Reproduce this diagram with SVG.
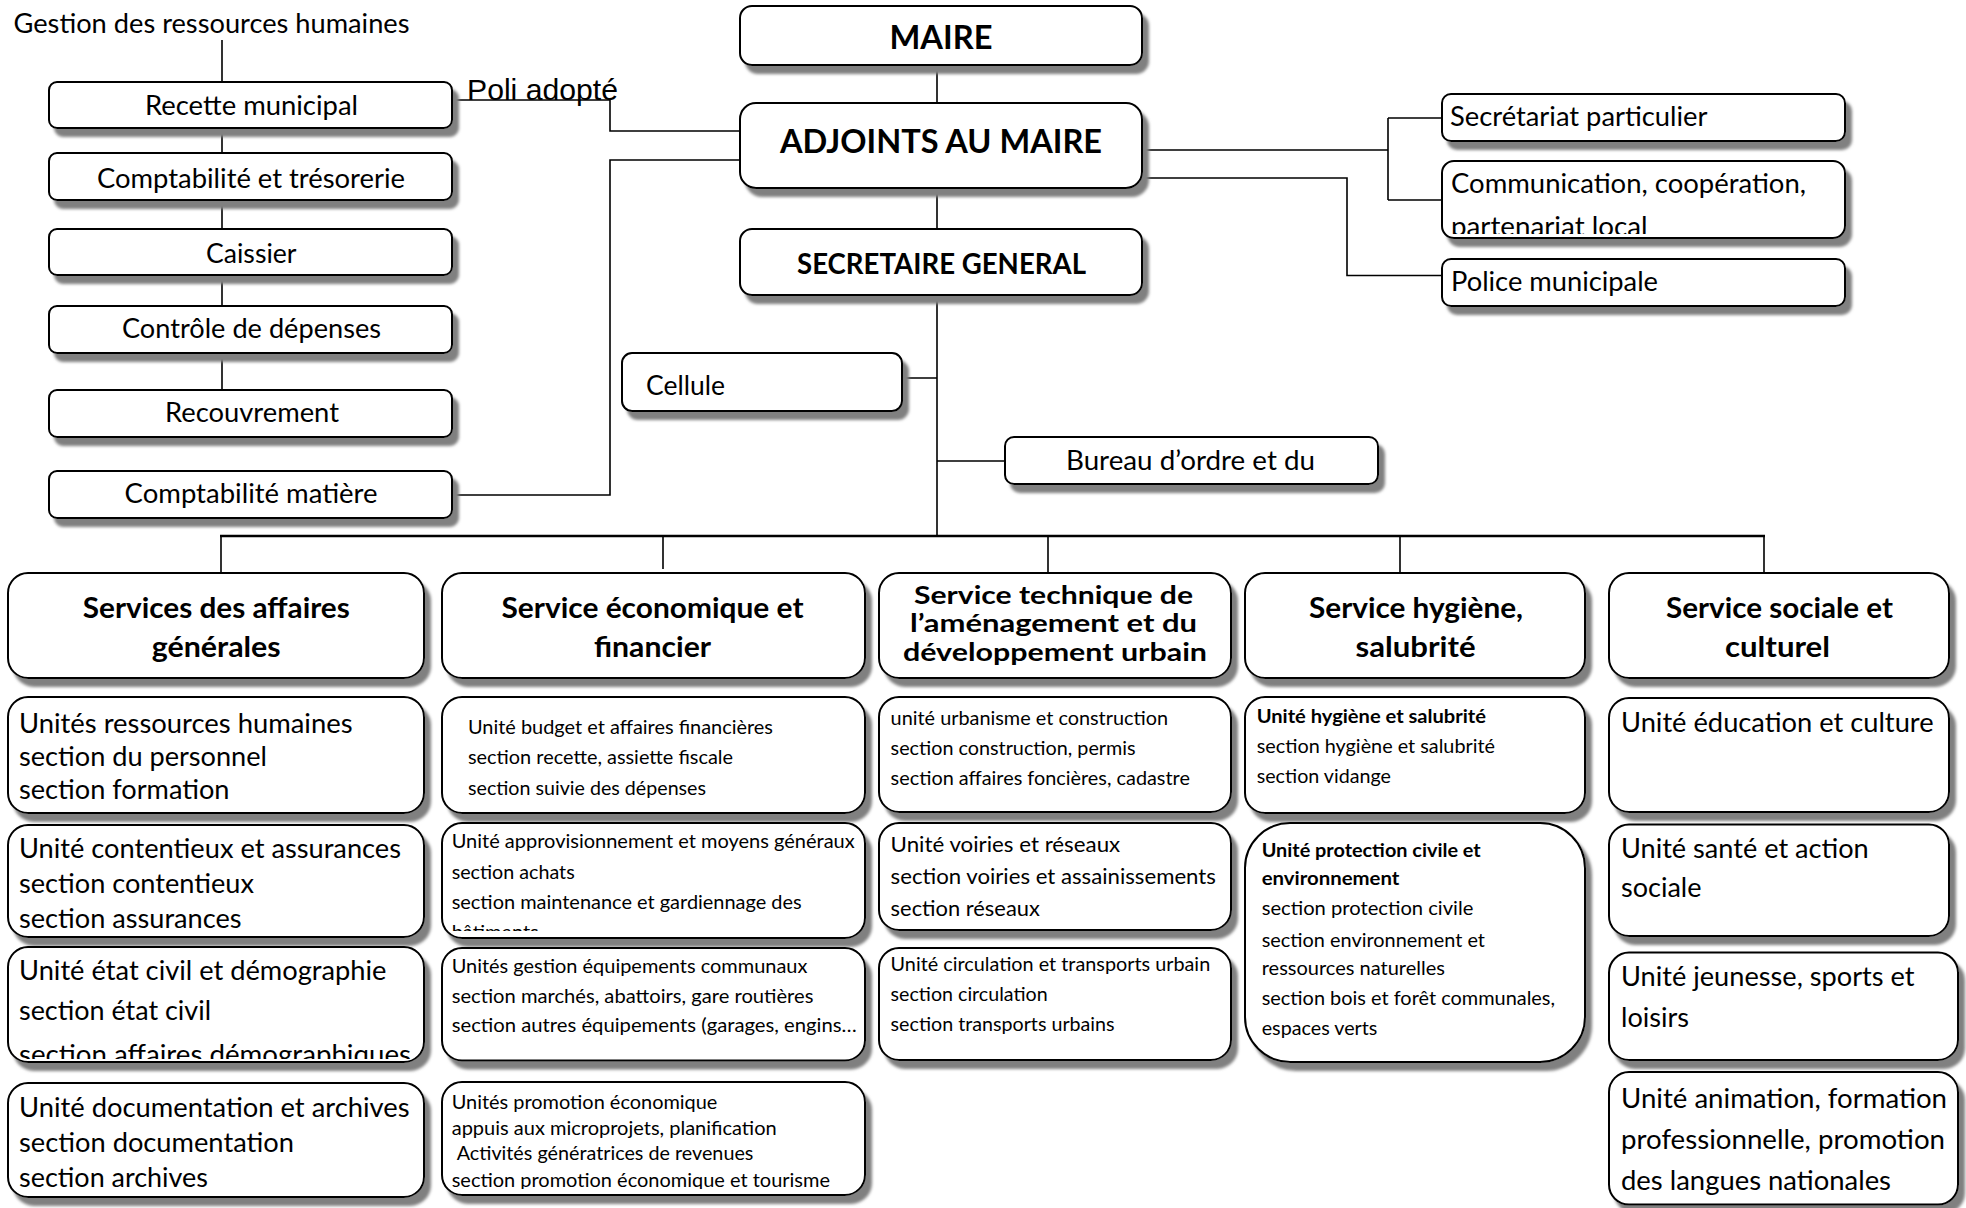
<svg xmlns="http://www.w3.org/2000/svg" width="1966" height="1208" viewBox="0 0 1966 1208" xml:space="preserve">
<defs>
<filter id="sh" x="-5%" y="-10%" width="115%" height="135%">
<feDropShadow dx="6" dy="8" stdDeviation="1.5" flood-color="#808080" flood-opacity="1"/>
</filter>
<clipPath id="clipComm"><rect x="1442" y="161" width="403" height="73"/></clipPath>
<clipPath id="clipC1C"><rect x="8" y="947" width="416" height="112"/></clipPath>
<clipPath id="clipC2B"><rect x="442" y="823" width="423" height="108"/></clipPath>
<clipPath id="clipC2D"><rect x="442" y="1082" width="423" height="107"/></clipPath>
</defs>
<style>
.box{fill:#fff;stroke:#000;stroke-width:2;filter:url(#sh)}
.c{fill:none;stroke:#000;stroke-width:1.6}
text{fill:#000;font-family:Lato,"Liberation Sans",sans-serif}
.r26{font-size:26px}
.r21{font-size:21px}
.r19{font-size:19px}
.b19{font-size:19px;font-weight:700}
.b26{font-size:25.5px;font-weight:700}
.b29{font-size:29px;font-weight:700}
.b33{font-size:33px;font-weight:700}
.ar{font-family:"Liberation Sans",Arial,sans-serif;font-size:29px}
</style>
<rect width="1966" height="1208" fill="#fff"/>

<g id="title-fragment">
<text class="ar" x="467" y="100" textLength="151" lengthAdjust="spacingAndGlyphs">Poli  adopté</text>
</g>

<g id="connectors">
<path class="c" d="M222 40V82M222 128V153M222 200V229M222 275V306M222 353V390"/>
<path class="c" d="M452 100H610V131H740"/>
<path class="c" d="M452 495H610V160H740"/>
<path class="c" d="M937 65V103M937 188V229M937 295V536"/>
<path class="c" d="M902 378H937M937 461H1005"/>
<path class="c" d="M1142 150H1388M1388 118V200M1388 118H1442M1388 200H1442"/>
<path class="c" d="M1142 178H1347V275.5H1442"/>
<path class="c" style="stroke-width:2.6" d="M220 536H1765"/>
<path class="c" d="M221 536V573M663 536V569M1048 536V573M1400 536V573M1764 536V573"/>
</g>

<g id="gestion-rh">
<text class="r26" x="13.5" y="32.7" textLength="396" lengthAdjust="spacingAndGlyphs">Gestion des ressources humaines</text>
</g>

<g id="recette-municipal">
<rect class="box" x="49" y="82" width="403" height="46" rx="8"/>
<text class="r26" x="145" y="115" textLength="213" lengthAdjust="spacingAndGlyphs">Recette municipal</text>
</g>
<g id="comptabilite-tresorerie">
<rect class="box" x="49" y="153" width="403" height="47" rx="8"/>
<text class="r26" x="97" y="187.5" textLength="308" lengthAdjust="spacingAndGlyphs">Comptabilité et trésorerie</text>
</g>
<g id="caissier">
<rect class="box" x="49" y="229" width="403" height="46" rx="8"/>
<text class="r26" x="206" y="263" textLength="90.5" lengthAdjust="spacingAndGlyphs">Caissier</text>
</g>
<g id="controle-depenses">
<rect class="box" x="49" y="306" width="403" height="47" rx="8"/>
<text class="r26" x="122" y="338" textLength="259" lengthAdjust="spacingAndGlyphs">Contrôle de dépenses</text>
</g>
<g id="recouvrement">
<rect class="box" x="49" y="390" width="403" height="47" rx="8"/>
<text class="r26" x="165" y="422" textLength="174" lengthAdjust="spacingAndGlyphs">Recouvrement</text>
</g>
<g id="comptabilite-matiere">
<rect class="box" x="49" y="471" width="403" height="47" rx="8"/>
<text class="r26" x="124.6" y="503" textLength="253" lengthAdjust="spacingAndGlyphs">Comptabilité matière</text>
</g>

<g id="maire">
<rect class="box" x="740" y="6" width="402" height="59" rx="12"/>
<text class="b33" x="889.5" y="48.5" textLength="103" lengthAdjust="spacingAndGlyphs">MAIRE</text>
</g>
<g id="adjoints">
<rect class="box" x="740" y="103" width="402" height="85" rx="16"/>
<text class="b33" x="780" y="153" textLength="322" lengthAdjust="spacingAndGlyphs">ADJOINTS AU MAIRE</text>
</g>
<g id="secretaire-general">
<rect class="box" x="740" y="229" width="402" height="66" rx="12"/>
<text class="b29" x="797" y="274" textLength="289" lengthAdjust="spacingAndGlyphs">SECRETAIRE GENERAL</text>
</g>
<g id="cellule">
<rect class="box" x="622" y="353" width="280" height="58" rx="10"/>
<text class="r26" x="646" y="395" textLength="79" lengthAdjust="spacingAndGlyphs">Cellule</text>
</g>
<g id="bureau-ordre">
<rect class="box" x="1005" y="437" width="373" height="47" rx="9"/>
<text class="r26" x="1066" y="470" textLength="249" lengthAdjust="spacingAndGlyphs">Bureau d’ordre et du</text>
</g>

<g id="secretariat">
<rect class="box" x="1442" y="94" width="403" height="47" rx="9"/>
<text class="r26" x="1450" y="126" textLength="257.5" lengthAdjust="spacingAndGlyphs">Secrétariat particulier</text>
</g>
<g id="communication">
<rect class="box" x="1442" y="161" width="403" height="77" rx="12"/>
<text class="r26" x="1451" y="193" textLength="355" lengthAdjust="spacingAndGlyphs">Communication, coopération,</text>
<text class="r26" x="1451" y="236" textLength="196.6" lengthAdjust="spacingAndGlyphs" clip-path="url(#clipComm)">partenariat local</text>
</g>
<g id="police">
<rect class="box" x="1442" y="259" width="403" height="47" rx="9"/>
<text class="r26" x="1451" y="291" textLength="207" lengthAdjust="spacingAndGlyphs">Police municipale</text>
</g>

<g id="svc-affaires-generales">
<rect class="box" x="8" y="573" width="416" height="105" rx="20"/>
<text class="b29" x="82.8" y="618" textLength="267" lengthAdjust="spacingAndGlyphs">Services des affaires</text>
<text class="b29" x="151.7" y="657" textLength="129" lengthAdjust="spacingAndGlyphs">générales</text>
</g>
<g id="svc-economique">
<rect class="box" x="442" y="573" width="423" height="105" rx="20"/>
<text class="b29" x="501.5" y="618" textLength="302" lengthAdjust="spacingAndGlyphs">Service économique et</text>
<text class="b29" x="594" y="657" textLength="117" lengthAdjust="spacingAndGlyphs">financier</text>
</g>
<g id="svc-technique">
<rect class="box" x="879" y="573" width="352" height="105" rx="20"/>
<text class="b26" x="914" y="604" textLength="279" lengthAdjust="spacingAndGlyphs">Service technique de</text>
<text class="b26" x="910" y="632" textLength="287" lengthAdjust="spacingAndGlyphs">l’aménagement et du</text>
<text class="b26" x="903" y="661" textLength="304" lengthAdjust="spacingAndGlyphs">développement urbain</text>
</g>
<g id="svc-hygiene">
<rect class="box" x="1245" y="573" width="340" height="105" rx="20"/>
<text class="b29" x="1309" y="618" textLength="214" lengthAdjust="spacingAndGlyphs">Service hygiène,</text>
<text class="b29" x="1355.5" y="657" textLength="120" lengthAdjust="spacingAndGlyphs">salubrité</text>
</g>
<g id="svc-sociale">
<rect class="box" x="1609" y="573" width="340" height="105" rx="20"/>
<text class="b29" x="1666" y="618" textLength="227" lengthAdjust="spacingAndGlyphs">Service sociale et</text>
<text class="b29" x="1725" y="657" textLength="105" lengthAdjust="spacingAndGlyphs">culturel</text>
</g>

<g id="u-ressources-humaines">
<rect class="box" x="8" y="697" width="416" height="116" rx="20"/>
<text class="r26" x="19" y="733" textLength="333.5" lengthAdjust="spacingAndGlyphs">Unités ressources humaines</text>
<text class="r26" x="19" y="766" textLength="248" lengthAdjust="spacingAndGlyphs">section du personnel</text>
<text class="r26" x="19" y="799" textLength="210.5" lengthAdjust="spacingAndGlyphs">section formation</text>
</g>
<g id="u-contentieux">
<rect class="box" x="8" y="825" width="416" height="112" rx="20"/>
<text class="r26" x="19" y="858" textLength="382" lengthAdjust="spacingAndGlyphs">Unité contentieux et assurances</text>
<text class="r26" x="19" y="893" textLength="235" lengthAdjust="spacingAndGlyphs">section contentieux</text>
<text class="r26" x="19" y="928" textLength="222.5" lengthAdjust="spacingAndGlyphs">section assurances</text>
</g>
<g id="u-etat-civil">
<rect class="box" x="8" y="947" width="416" height="115" rx="20"/>
<text class="r26" x="19" y="980" textLength="367.5" lengthAdjust="spacingAndGlyphs">Unité état civil et démographie</text>
<text class="r26" x="19" y="1020" textLength="192" lengthAdjust="spacingAndGlyphs">section état civil</text>
<text class="r26" x="19" y="1064" textLength="392" lengthAdjust="spacingAndGlyphs" clip-path="url(#clipC1C)">section  affaires démographiques</text>
</g>
<g id="u-documentation">
<rect class="box" x="8" y="1083" width="416" height="114" rx="20"/>
<text class="r26" x="19" y="1117" textLength="390.5" lengthAdjust="spacingAndGlyphs">Unité documentation et archives</text>
<text class="r26" x="19" y="1152" textLength="275" lengthAdjust="spacingAndGlyphs">section documentation</text>
<text class="r26" x="19" y="1187" textLength="189" lengthAdjust="spacingAndGlyphs">section archives</text>
</g>

<g id="u-budget">
<rect class="box" x="442" y="697" width="423" height="116" rx="20"/>
<text class="r19" x="468" y="734" textLength="305" lengthAdjust="spacingAndGlyphs">Unité budget et affaires financières</text>
<text class="r19" x="468" y="764" textLength="265" lengthAdjust="spacingAndGlyphs">section recette, assiette fiscale</text>
<text class="r19" x="468" y="794.5" textLength="238" lengthAdjust="spacingAndGlyphs">section suivie des dépenses</text>
</g>
<g id="u-approvisionnement">
<rect class="box" x="442" y="823" width="423" height="115" rx="20"/>
<text class="r19" x="451.7" y="848.4" textLength="403" lengthAdjust="spacingAndGlyphs">Unité approvisionnement et moyens généraux</text>
<text class="r19" x="451.7" y="878.6" textLength="123" lengthAdjust="spacingAndGlyphs">section achats</text>
<text class="r19" x="451.7" y="909" textLength="350" lengthAdjust="spacingAndGlyphs">section maintenance et gardiennage des</text>
<text class="r19" x="451.7" y="939.3" textLength="87" lengthAdjust="spacingAndGlyphs" clip-path="url(#clipC2B)">bâtiments</text>
</g>
<g id="u-equipements">
<rect class="box" x="442" y="948" width="423" height="112.5" rx="20"/>
<text class="r19" x="451.7" y="973" textLength="355.7" lengthAdjust="spacingAndGlyphs">Unités gestion équipements communaux</text>
<text class="r19" x="451.7" y="1003" textLength="361.7" lengthAdjust="spacingAndGlyphs">section marchés, abattoirs, gare routières</text>
<text class="r19" x="451.7" y="1032" textLength="405" lengthAdjust="spacingAndGlyphs">section  autres équipements (garages, engins…</text>
</g>
<g id="u-promotion">
<rect class="box" x="442" y="1082" width="423" height="113" rx="20"/>
<text class="r19" x="451.7" y="1109.3" textLength="265.7" lengthAdjust="spacingAndGlyphs">Unités promotion économique</text>
<text class="r19" x="451.7" y="1134.5" textLength="325" lengthAdjust="spacingAndGlyphs">appuis aux microprojets, planification</text>
<text class="r19" x="456.7" y="1159.8" textLength="296.7" lengthAdjust="spacingAndGlyphs">Activités génératrices de revenues</text>
<text class="r19" x="451.7" y="1186.7" textLength="378.3" lengthAdjust="spacingAndGlyphs" clip-path="url(#clipC2D)">section promotion économique et tourisme</text>
</g>

<g id="u-urbanisme">
<rect class="box" x="879" y="697" width="352" height="115" rx="20"/>
<text class="r19" x="890.6" y="725" textLength="277.5" lengthAdjust="spacingAndGlyphs">unité urbanisme et construction</text>
<text class="r19" x="890.6" y="755" textLength="245" lengthAdjust="spacingAndGlyphs">section construction, permis</text>
<text class="r19" x="890.6" y="785" textLength="299.3" lengthAdjust="spacingAndGlyphs">section affaires foncières, cadastre</text>
</g>
<g id="u-voiries">
<rect class="box" x="879" y="823" width="352" height="107" rx="20"/>
<text class="r21" x="890.6" y="852" textLength="229.6" lengthAdjust="spacingAndGlyphs">Unité voiries et réseaux</text>
<text class="r21" x="890.6" y="884" textLength="325.3" lengthAdjust="spacingAndGlyphs">section voiries et assainissements</text>
<text class="r21" x="890.6" y="916" textLength="149.3" lengthAdjust="spacingAndGlyphs">section réseaux</text>
</g>
<g id="u-circulation">
<rect class="box" x="879" y="948" width="352" height="112" rx="20"/>
<text class="r19" x="890.6" y="971" textLength="319.6" lengthAdjust="spacingAndGlyphs">Unité circulation et transports urbain</text>
<text class="r19" x="890.6" y="1001" textLength="157" lengthAdjust="spacingAndGlyphs">section circulation</text>
<text class="r19" x="890.6" y="1031" textLength="224" lengthAdjust="spacingAndGlyphs">section transports urbains</text>
</g>

<g id="u-hygiene">
<rect class="box" x="1245" y="697" width="340" height="116" rx="20"/>
<text class="b19" x="1256.7" y="723.3" textLength="229.3" lengthAdjust="spacingAndGlyphs">Unité hygiène et salubrité</text>
<text class="r19" x="1256.7" y="753.3" textLength="238.3" lengthAdjust="spacingAndGlyphs">section hygiène et salubrité</text>
<text class="r19" x="1256.7" y="783.3" textLength="134.3" lengthAdjust="spacingAndGlyphs">section vidange</text>
</g>
<g id="u-protection-civile">
<rect class="box" x="1245" y="823" width="340" height="239" rx="45"/>
<text class="b19" x="1261.7" y="856.7" textLength="219" lengthAdjust="spacingAndGlyphs">Unité protection civile et</text>
<text class="b19" x="1261.7" y="885" textLength="137.7" lengthAdjust="spacingAndGlyphs">environnement</text>
<text class="r19" x="1261.7" y="915" textLength="211.7" lengthAdjust="spacingAndGlyphs">section protection  civile</text>
<text class="r19" x="1261.7" y="946.7" textLength="223.3" lengthAdjust="spacingAndGlyphs">section environnement et</text>
<text class="r19" x="1261.7" y="975" textLength="183.3" lengthAdjust="spacingAndGlyphs">ressources naturelles</text>
<text class="r19" x="1261.7" y="1005" textLength="293.3" lengthAdjust="spacingAndGlyphs">section bois et forêt communales,</text>
<text class="r19" x="1261.7" y="1035" textLength="115.7" lengthAdjust="spacingAndGlyphs">espaces verts</text>
</g>

<g id="u-education">
<rect class="box" x="1609" y="698" width="340" height="114" rx="20"/>
<text class="r26" x="1621" y="731.5" textLength="312.6" lengthAdjust="spacingAndGlyphs">Unité éducation et culture</text>
</g>
<g id="u-sante">
<rect class="box" x="1609" y="824.5" width="340" height="111.5" rx="20"/>
<text class="r26" x="1621" y="857.5" textLength="247.7" lengthAdjust="spacingAndGlyphs">Unité santé et action</text>
<text class="r26" x="1621" y="897" textLength="80.5" lengthAdjust="spacingAndGlyphs">sociale</text>
</g>
<g id="u-jeunesse">
<rect class="box" x="1609" y="952.6" width="349" height="107.4" rx="20"/>
<text class="r26" x="1621" y="985.6" textLength="293.5" lengthAdjust="spacingAndGlyphs">Unité jeunesse, sports et</text>
<text class="r26" x="1621" y="1027" textLength="68" lengthAdjust="spacingAndGlyphs">loisirs</text>
</g>
<g id="u-animation">
<rect class="box" x="1609" y="1072" width="349" height="132.6" rx="20"/>
<text class="r26" x="1621" y="1107.5" textLength="326" lengthAdjust="spacingAndGlyphs">Unité animation, formation</text>
<text class="r26" x="1621" y="1149" textLength="324" lengthAdjust="spacingAndGlyphs">professionnelle, promotion</text>
<text class="r26" x="1621" y="1190" textLength="270" lengthAdjust="spacingAndGlyphs">des langues nationales</text>
</g>
</svg>
